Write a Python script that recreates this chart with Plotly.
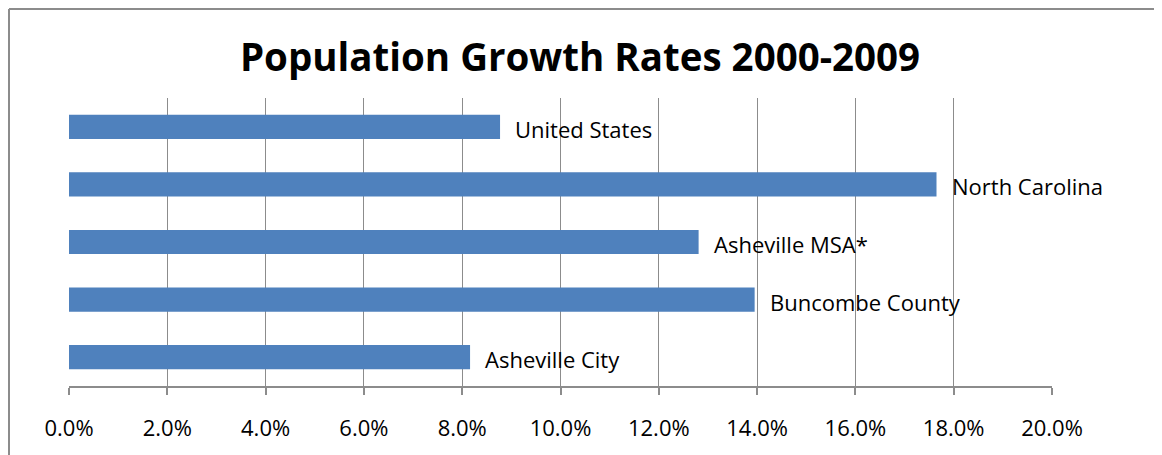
import plotly.graph_objects as go

categories = ["Asheville City", "Buncombe County", "Asheville MSA*", "North Carolina", "United States"]
growth = [8.16, 13.95, 12.81, 17.65, 8.77]
tick_vals = [0, 2, 4, 6, 8, 10, 12, 14, 16, 18, 20]
tick_text = ["0.0%", "2.0%", "4.0%", "6.0%", "8.0%", "10.0%", "12.0%", "14.0%", "16.0%", "18.0%", "20.0%"]

FONT = "Open Sans, Carlito, Calibri, sans-serif"

W, H = 1154, 447
ML, MR, MT, MB = 61, 110, 90, 69
PW, PH = W - ML - MR, H - MT - MB

fig = go.Figure(go.Bar(
    x=growth, y=categories, orientation="h",
    marker=dict(color="#4F81BD", line=dict(width=0)),
    hoverinfo="skip",
))

for c, v in zip(categories, growth):
    fig.add_annotation(x=v, y=c, text=c, showarrow=False, xanchor="left",
                       xshift=13, yshift=-2, font=dict(family=FONT, size=22, color="#000000"))

fig.update_layout(
    width=W, height=H,
    margin=dict(l=ML, r=MR, t=MT, b=MB),
    paper_bgcolor="white", plot_bgcolor="white",
    bargap=0.58,
    showlegend=False,
    title=dict(text="<b>Population Growth Rates 2000-2009</b>", x=572 / W, xref="container",
               xanchor="center", y=1 - 50 / H, yref="container", yanchor="middle",
               font=dict(family=FONT, size=38.5, color="#000000")),
    xaxis=dict(range=[0, 20], tickvals=tick_vals, ticktext=tick_text,
               showgrid=True, gridcolor="#8c8c8c", gridwidth=1,
               showline=True, linecolor="#8c8c8c", linewidth=2,
               ticks="outside", ticklen=7, tickcolor="#8c8c8c", tickwidth=1.5,
               tickfont=dict(family=FONT, size=22, color="#000000"),
               ticklabelstandoff=15, zeroline=False, fixedrange=True),
    yaxis=dict(showticklabels=False, showgrid=False, zeroline=False, showline=False,
               ticks="", fixedrange=True),
)

# outer chart border (left and top edges visible in the frame)
bx = (1 - ML) / PW
by = 1 + (MT - 1) / PH
fig.add_shape(type="line", xref="paper", yref="paper",
              x0=bx, x1=bx, y0=by, y1=-0.5,
              line=dict(color="#8c8c8c", width=2))
fig.add_shape(type="line", xref="paper", yref="paper",
              x0=bx, x1=(W + 10 - ML) / PW, y0=by, y1=by,
              line=dict(color="#8c8c8c", width=2))

fig.write_html("out.html")
